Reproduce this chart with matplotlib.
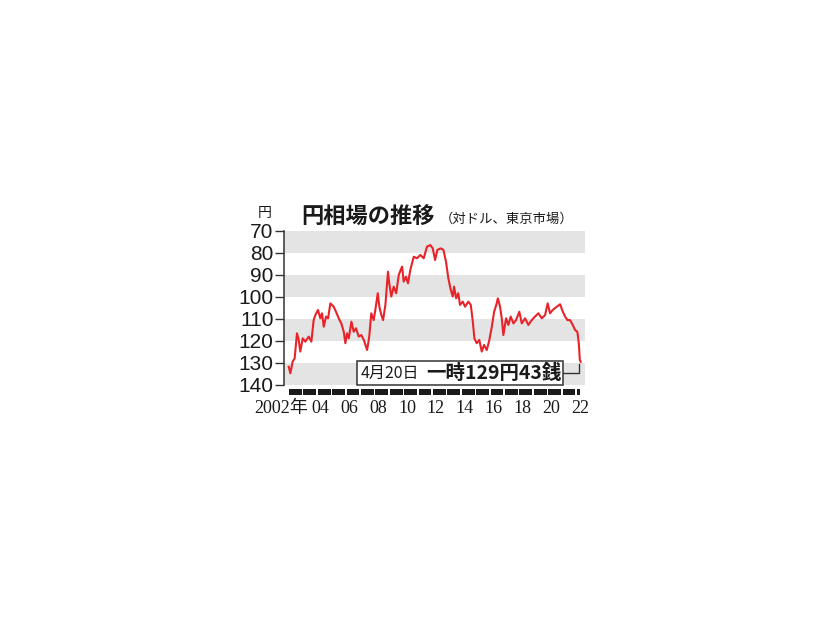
import matplotlib
matplotlib.use('Agg')
import matplotlib.pyplot as plt
import matplotlib.transforms as mtransforms
from matplotlib.patches import Rectangle

plt.rcParams['font.family'] = ['Noto Sans CJK JP', 'DejaVu Sans']

# Data (yen per dollar, Tokyo market)
t = [2002.03, 2002.14, 2002.30, 2002.44, 2002.60, 2002.72, 2002.83, 2003.00,
     2003.18, 2003.42, 2003.60, 2003.76, 2003.88, 2004.06, 2004.22, 2004.34,
     2004.46, 2004.62, 2004.76, 2004.92, 2005.15, 2005.31, 2005.50, 2005.68,
     2005.85, 2005.96, 2006.08, 2006.20, 2006.38, 2006.54, 2006.70, 2006.89,
     2007.07, 2007.24, 2007.47, 2007.62, 2007.76, 2007.93, 2008.04, 2008.21,
     2008.32, 2008.46, 2008.58, 2008.74, 2008.92, 2009.01, 2009.15, 2009.32,
     2009.49, 2009.67, 2009.80, 2009.90, 2010.01, 2010.17, 2010.31, 2010.47,
     2010.71, 2010.94, 2011.17, 2011.40, 2011.63, 2011.86, 2012.03, 2012.19,
     2012.35, 2012.58, 2012.77, 2012.95, 2013.11, 2013.28, 2013.42, 2013.51,
     2013.65, 2013.80, 2013.92, 2014.11, 2014.27, 2014.50, 2014.67, 2014.81,
     2014.92, 2015.08, 2015.26, 2015.43, 2015.59, 2015.78, 2015.96, 2016.13,
     2016.29, 2016.44, 2016.55, 2016.70, 2016.82, 2016.93, 2017.12, 2017.28,
     2017.44, 2017.63, 2017.81, 2018.04, 2018.21, 2018.44, 2018.67, 2018.90,
     2019.13, 2019.36, 2019.60, 2019.83, 2020.01, 2020.17, 2020.36, 2020.64,
     2020.87, 2021.06, 2021.22, 2021.38, 2021.56, 2021.75, 2021.91, 2022.07,
     2022.17, 2022.24, 2022.30]
yen = [131.7, 134.7, 129.4, 127.9, 116.5, 119.5, 124.8, 118.8,
       120.3, 118.0, 120.3, 110.5, 108.2, 105.9, 109.7, 107.4,
       113.5, 108.9, 109.7, 102.9, 104.4, 106.7, 109.7, 112.0,
       115.8, 121.0, 116.5, 118.8, 111.2, 115.8, 114.2, 118.0,
       117.3, 119.5, 124.1, 118.0, 107.4, 110.5, 105.9, 98.3,
       104.4, 108.2, 110.5, 103.6, 88.5, 93.8, 99.8, 95.3,
       98.3, 90.0, 87.7, 86.2, 93.0, 90.8, 93.8, 87.7,
       81.7, 82.4, 80.9, 82.4, 77.1, 76.4, 77.9, 83.2,
       78.6, 77.9, 78.6, 84.0, 91.5, 96.8, 99.8, 95.3,
       100.6, 98.3, 103.6, 102.1, 104.4, 102.1, 103.6, 111.2,
       118.8, 121.0, 119.5, 124.8, 121.8, 124.1, 119.5, 113.5,
       106.7, 103.6, 100.6, 104.4, 109.7, 117.3, 109.7, 112.7,
       108.9, 112.0, 110.5, 106.7, 112.0, 109.7, 112.7, 110.5,
       108.9, 107.4, 109.7, 108.2, 102.9, 107.4, 105.9, 104.4,
       103.3, 106.7, 108.9, 110.5, 110.5, 112.7, 115.0, 115.8,
       121.0, 128.6, 129.43]

y_ticks = [70, 80, 90, 100, 110, 120, 130, 140]
bands = [(70, 80), (90, 100), (110, 120), (130, 140)]
years = list(range(2002, 2023))
year_labels = ['2002年'] + ['%02d' % (y % 100) for y in range(2004, 2023, 2)]
note_date = '4月20日'
note_value = '一時129円43銭'

W, H = 826, 620
fig = plt.figure(figsize=(W / 100, H / 100), dpi=100)
fig.patch.set_facecolor('white')


def fx(x):
    return x / W


def fy(y):
    return 1 - y / H


ax = fig.add_axes([fx(284), fy(385), fx(585) - fx(284), fy(231) - fy(385)])
ax.set_xlim(2001.70, 2022.60)
ax.set_ylim(140, 70)

for lo, hi in bands:
    ax.axhspan(lo, hi, color='#e4e4e4', lw=0, zorder=0)

ax.plot(t, yen, color='#e8232a', lw=1.5, zorder=3)

for s in ['top', 'right', 'bottom']:
    ax.spines[s].set_visible(False)
ax.spines['left'].set_color('#333333')
ax.spines['left'].set_linewidth(1.1)
ax.set_yticks(y_ticks)
ax.set_yticklabels([str(v) for v in y_ticks], fontsize=15, color='#1a1a1a',
                   family=['Liberation Sans', 'DejaVu Sans'])
ax.tick_params(axis='y', length=6.5, width=1.0, color='#333333', pad=1)
ax.set_xticks([])

# year bar under the plot
trans = mtransforms.blended_transform_factory(ax.transData, ax.transAxes)
for y in years:
    end = min(y + 1, 2022.3)
    ax.add_patch(Rectangle((y + 0.04, -0.062), end - y - 0.1, 0.035,
                           transform=trans, color='#1a1a1a', lw=0,
                           clip_on=False))

serif = ['Liberation Serif', 'Noto Sans CJK JP']
ax.text(2001.53, -0.155, year_labels[0], transform=trans, ha='center',
        va='center', fontsize=13, family=serif, color='#1a1a1a')
for i, lab in enumerate(year_labels[1:]):
    ax.text(2004.25 + 2 * i, -0.155, lab, transform=trans, ha='center',
            va='center', fontsize=13, family=serif, color='#1a1a1a')

# annotation box with connector
box = Rectangle((fx(357), fy(385)), fx(563) - fx(357), fy(361) - fy(385),
                transform=fig.transFigure, facecolor='white',
                edgecolor='#333333', lw=1.1, zorder=5)
fig.add_artist(box)
fig.text(fx(361), fy(373), note_date, fontsize=11.5, va='center', ha='left',
         color='#1a1a1a', zorder=6)
fig.text(fx(426), fy(373), note_value, fontsize=14, fontweight='bold',
         va='center', ha='left', color='#1a1a1a', zorder=6)
ax.plot([fx(563), fx(579), fx(579)], [fy(373), fy(373), fy(364)],
        transform=fig.transFigure, color='#333333', lw=1.0, clip_on=False)

# title and unit
fig.text(fx(301), fy(217), '円相場の推移', fontsize=16, fontweight='bold',
         va='center', ha='left', color='#1a1a1a')
fig.text(fx(440), fy(219), '（対ドル、東京市場）', fontsize=9.6,
         va='center', ha='left', color='#1a1a1a')
fig.text(fx(265), fy(213), '円', fontsize=10, va='center', ha='center',
         color='#1a1a1a')

fig.savefig('out.png', dpi=100)
